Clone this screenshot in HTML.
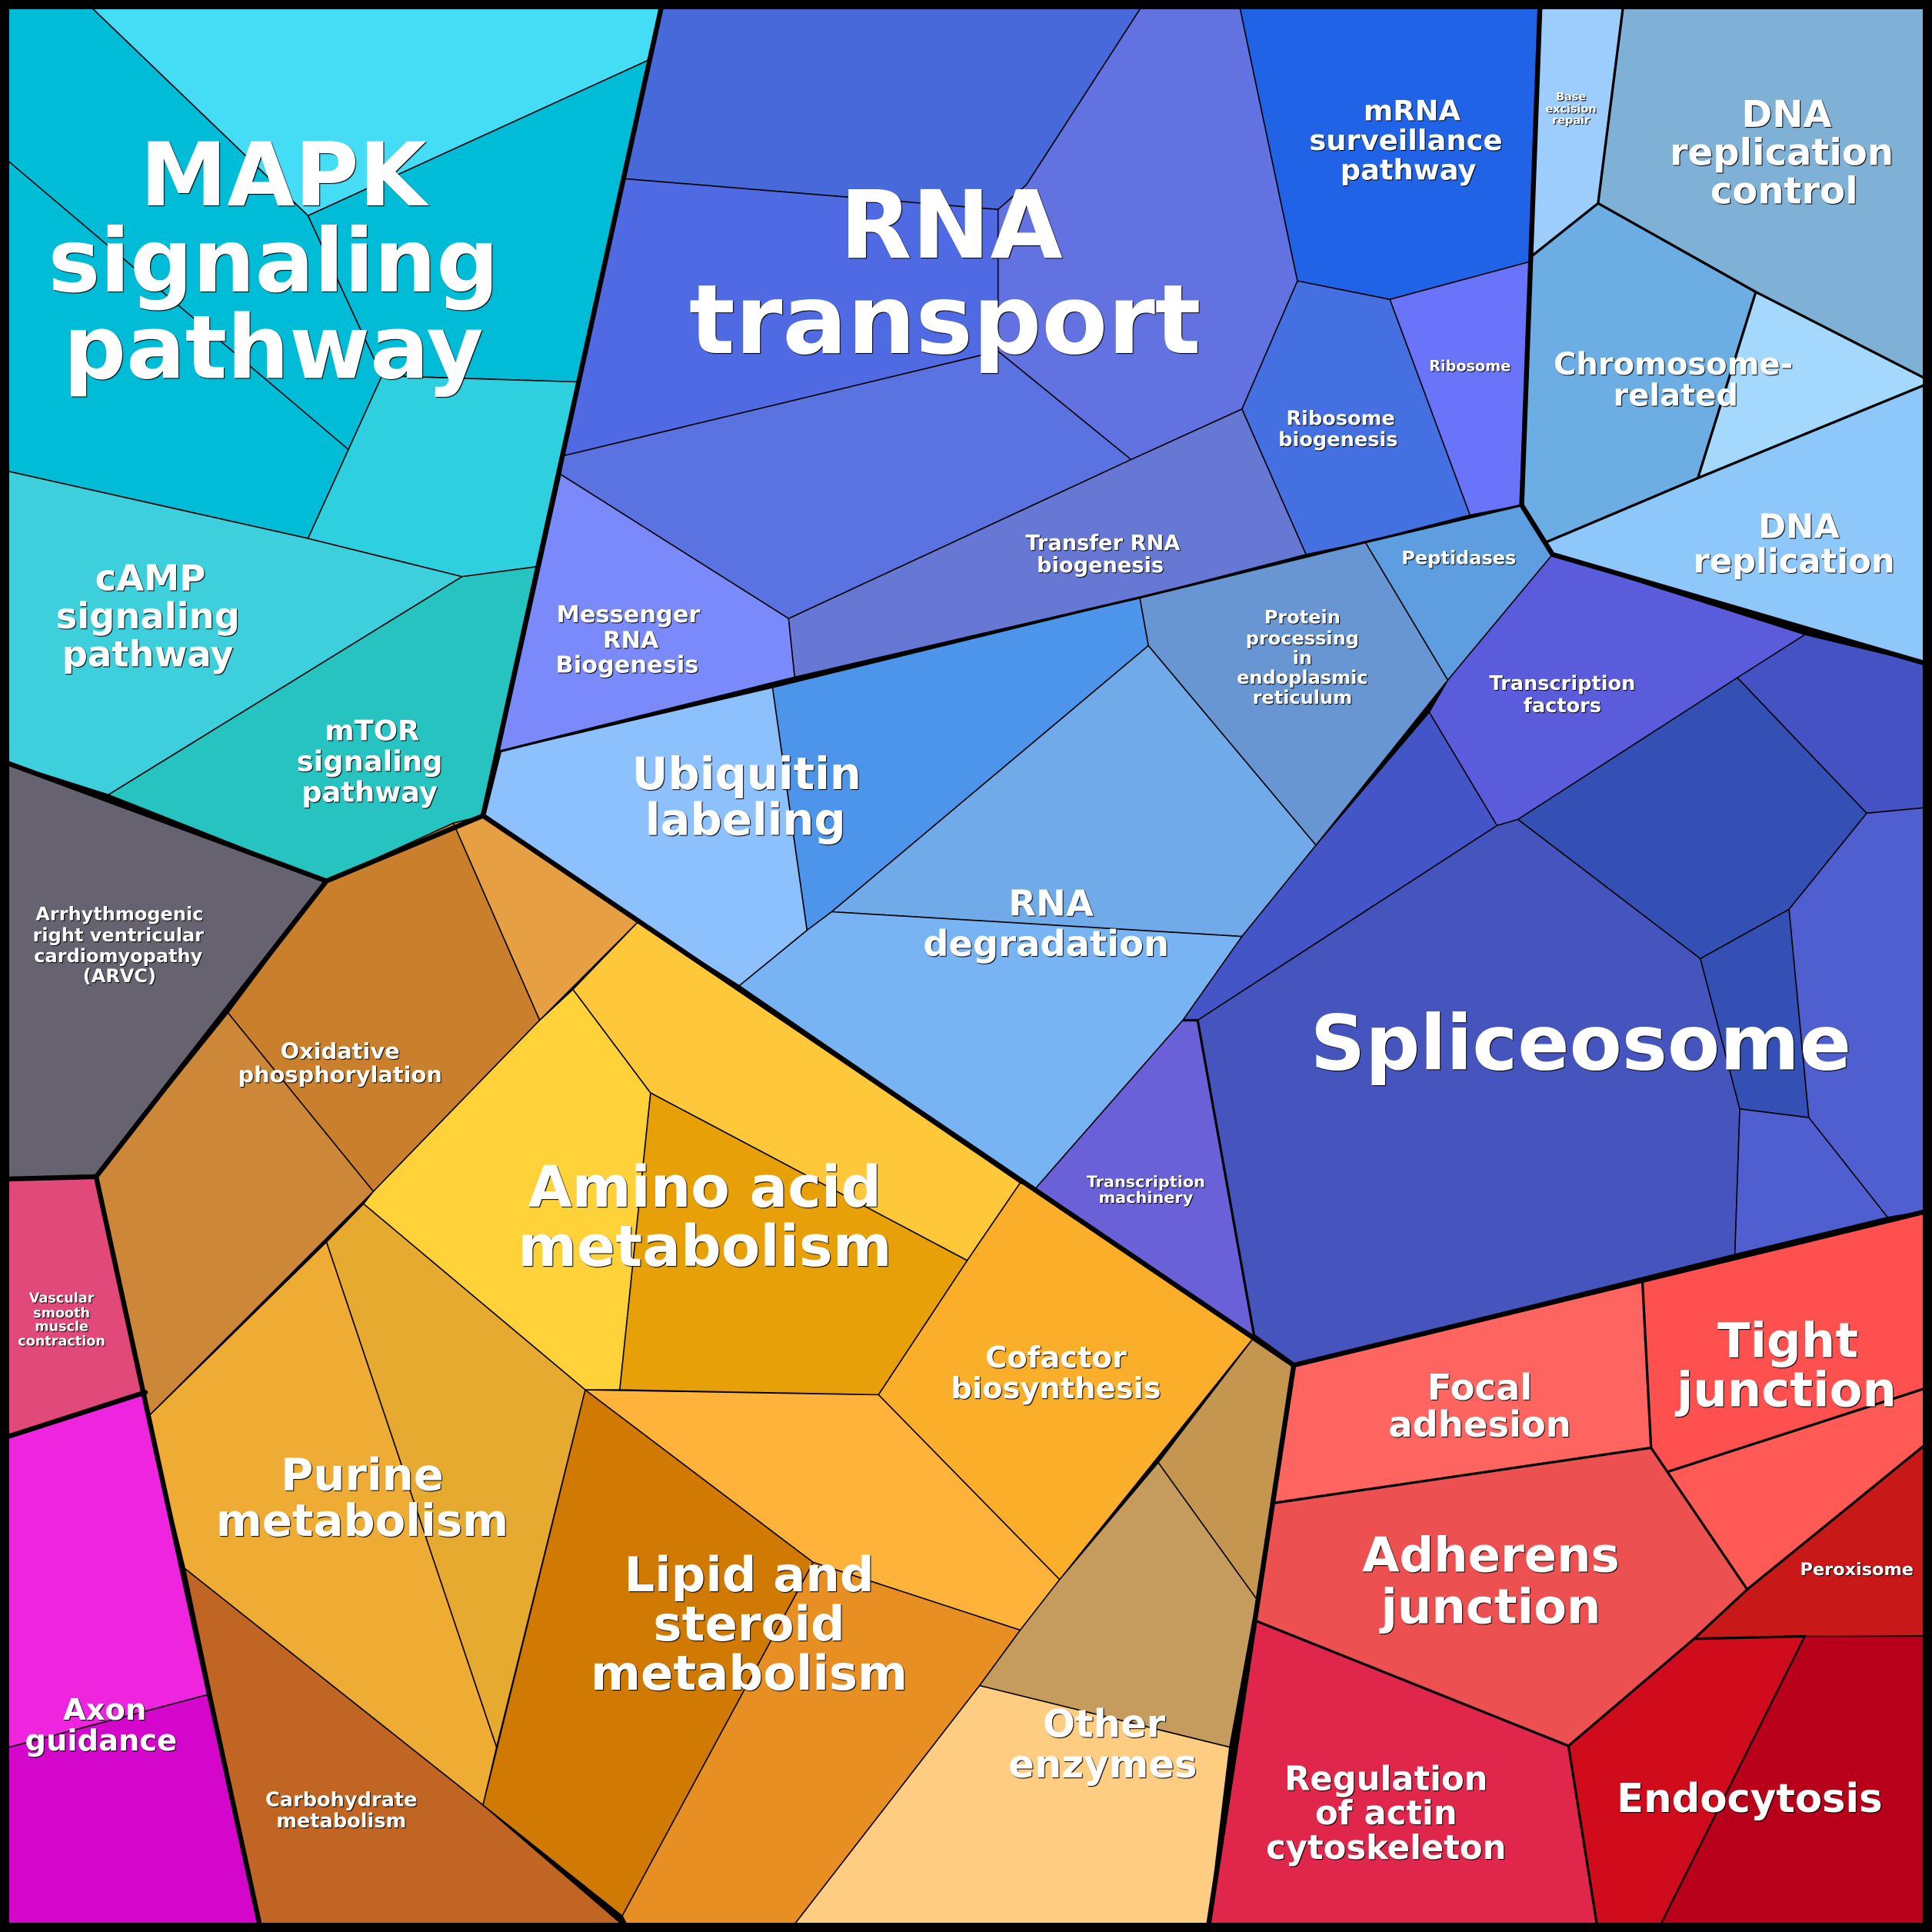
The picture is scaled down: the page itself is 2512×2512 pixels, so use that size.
<!DOCTYPE html>
<html><head><meta charset="utf-8"><style>
html,body{margin:0;padding:0;background:#000}
svg{display:block}
text{font-family:"DejaVu Sans","Liberation Sans",sans-serif;font-weight:bold;fill:#fff;text-anchor:middle;dominant-baseline:central;text-shadow:1px 1px 1px #000}
.c{stroke:#000;stroke-width:1;stroke-linejoin:round}
.m{stroke:#000;stroke-width:2;stroke-linejoin:round}
.t{fill:none;stroke:#000;stroke-width:4;stroke-linejoin:round;stroke-linecap:round}
</style></head><body>
<svg width="2512" height="2512" viewBox="0 0 1568 1568" xmlns="http://www.w3.org/2000/svg">
<polygon class="c" fill="#00bcd6" points="0,0 68,0 250,175 310,305 250,437 0,381"/>
<polygon class="c" fill="#45dcf5" points="68,0 538,0 528,48 250,175"/>
<polygon class="c" fill="#00bcd6" points="250,175 528,48 470,310 310,305"/>
<polygon class="c" fill="#2ed0e0" points="310,305 470,310 435,460 375,468 250,437"/>
<line class="c" x1="0" y1="125" x2="283" y2="365"/>
<polygon class="c" fill="#3ecfdc" points="0,381 250,437 375,468 88,645 0,617"/>
<polygon class="c" fill="#26c3c0" points="375,468 435,460 392,662 265,715 88,645"/>
<polygon class="c" fill="#676270" points="0,617 265,715 78,955 0,957"/>
<polygon class="c" fill="#e0497a" points="0,957 78,955 118,1130 0,1168"/>
<polygon class="c" fill="#ef24df" points="0,1168 118,1130 170,1375 0,1420"/>
<polygon class="c" fill="#d506cb" points="0,1420 170,1375 212,1568 0,1568"/>
<polygon class="c" fill="#c97f2b" points="185,822 265,715 368,668 438,828 303,967"/>
<polygon class="c" fill="#cd8738" points="78,955 185,822 303,967 120,1150"/>
<polygon class="c" fill="#e6a043" points="368,668 392,662 518,748 438,828"/>
<polygon class="c" fill="#ffd23a" points="438,828 465,803 528,887 503,1128 475,1128 295,977 303,967"/>
<polygon class="c" fill="#ffc83a" points="465,803 518,748 828,960 785,1023 528,887"/>
<polygon class="c" fill="#e8a008" points="528,887 785,1023 713,1132 503,1128"/>
<polygon class="c" fill="#fbae29" points="828,960 840,965 1018,1085 860,1282 713,1132 785,1023"/>
<polygon class="c" fill="#efac35" points="120,1150 265,1008 403,1418 392,1465 150,1273"/>
<polygon class="c" fill="#e6aa30" points="265,1008 295,977 475,1128 403,1418"/>
<polygon class="c" fill="#c06523" points="150,1273 392,1465 512,1568 212,1568"/>
<polygon class="c" fill="#d07a04" points="475,1128 660,1268 505,1555 392,1465"/>
<polygon class="c" fill="#ffb33a" points="475,1128 713,1132 860,1282 828,1323 660,1268"/>
<polygon class="c" fill="#e88f24" points="660,1268 828,1323 795,1368 640,1568 512,1568 505,1555"/>
<polygon class="c" fill="#c49650" points="940,1187 1018,1085 1050,1108 1020,1298"/>
<polygon class="c" fill="#c59c5e" points="860,1282 940,1187 1020,1298 998,1418 795,1368 828,1323"/>
<polygon class="c" fill="#ffcd82" points="795,1368 998,1418 980,1568 640,1568"/>
<polygon class="c" fill="#4869d9" points="538,0 930,0 833,150 810,170 506,145"/>
<polygon class="c" fill="#6272e0" points="930,0 1005,0 1053,228 1008,332 918,373 810,285 810,170 833,150"/>
<polygon class="c" fill="#4f6ae2" points="506,145 810,170 810,285 457,370 470,310"/>
<polygon class="c" fill="#5a73e0" points="457,370 810,285 918,373 640,502 455,385"/>
<polygon class="c" fill="#7a8afa" points="455,385 640,502 645,550 405,610"/>
<polygon class="c" fill="#6677d4" points="640,502 918,373 1008,332 1060,450 925,485 645,550"/>
<polygon class="c" fill="#2163e6" points="1005,0 1250,0 1243,212 1128,243 1053,228"/>
<polygon class="c" fill="#6a74fa" points="1128,243 1243,212 1235,410 1193,418"/>
<polygon class="c" fill="#4570e2" points="1053,228 1128,243 1193,418 1108,440 1060,450 1008,332"/>
<polygon class="c" fill="#5d9de0" points="1108,440 1235,410 1260,450 1175,552"/>
<polygon class="c" fill="#6896d2" points="925,485 1108,440 1175,552 1068,686 932,524"/>
<polygon class="c" fill="#8cc1fd" points="392,662 405,610 627,558 655,755 600,800 518,748"/>
<polygon class="c" fill="#4d95ea" points="627,558 925,485 932,524 675,740 655,755"/>
<polygon class="c" fill="#70aae8" points="675,740 932,524 1068,686 1008,760"/>
<polygon class="c" fill="#78b3f3" points="600,800 655,755 675,740 1008,760 960,828 840,965"/>
<polygon class="c" fill="#4455c8" points="960,828 1008,760 1068,686 1160,578 1215,670 972,828"/>
<polygon class="c" fill="#5b5cdc" points="1175,552 1260,450 1465,515 1232,665 1215,670 1160,578"/>
<polygon class="c" fill="#4655be" points="972,828 1215,670 1232,665 1380,778 1412,900 1408,1018 1050,1108 1018,1085"/>
<polygon class="c" fill="#6a60d8" points="840,965 960,828 972,828 1018,1085"/>
<polygon class="c" fill="#3450b5" points="1232,665 1410,550 1515,660 1452,738 1380,778"/>
<polygon class="c" fill="#4452c4" points="1410,550 1465,515 1568,540 1568,655 1515,660"/>
<polygon class="c" fill="#3450b5" points="1380,778 1452,738 1468,907 1412,900"/>
<polygon class="c" fill="#4f5fd0" points="1452,738 1515,660 1568,655 1568,982 1532,988 1468,907"/>
<polygon class="c" fill="#4f5fd0" points="1412,900 1468,907 1532,988 1408,1018"/>
<polygon class="m" fill="#9dcdfc" points="1250,0 1318,0 1297,165 1243,208"/>
<polygon class="m" fill="#7fb0d6" points="1318,0 1568,0 1568,310 1425,237 1297,165"/>
<polygon class="m" fill="#6caee4" points="1243,208 1297,165 1425,237 1378,388 1255,440 1235,410"/>
<polygon class="m" fill="#a5d8fd" points="1425,237 1568,310 1378,388"/>
<polygon class="m" fill="#8ec7fa" points="1378,388 1568,310 1568,540 1260,450 1255,440"/>
<polygon class="m" fill="#ff6560" points="1050,1108 1333,1040 1340,1175 1033,1220"/>
<polygon class="m" fill="#ff5050" points="1333,1040 1568,982 1568,1125 1352,1195 1340,1175"/>
<polygon class="m" fill="#ff5a55" points="1352,1195 1568,1125 1568,1168 1418,1290"/>
<polygon class="m" fill="#c81818" points="1418,1290 1568,1168 1568,1328 1375,1330"/>
<polygon class="m" fill="#ed5050" points="1033,1220 1340,1175 1418,1290 1375,1330 1273,1417 1018,1315"/>
<polygon class="m" fill="#e0264a" points="1018,1315 1273,1417 1297,1568 980,1568"/>
<polygon class="m" fill="#cf0b1c" points="1273,1417 1375,1330 1465,1328 1345,1568 1297,1568"/>
<polygon class="c" fill="#b8001a" points="1465,1328 1568,1328 1568,1568 1345,1568"/>
<polyline class="m" fill="none" points="405,610 645,550 925,485 1108,440 1235,410"/>
<polyline class="m" fill="none" points="960,828 972,828 1018,1085"/>
<polyline class="t" points="538,0 392,662"/>
<polyline class="t" points="0,617 265,715 392,662"/>
<polyline class="t" points="265,715 78,955 0,957"/>
<polyline class="t" points="78,955 212,1568"/>
<polyline class="t" points="0,1168 118,1130"/>
<polyline class="t" points="392,662 1050,1108 980,1568"/>
<polyline class="t" points="1018,1085 1050,1108 1568,982"/>
<polyline class="t" points="1250,0 1235,410 1260,450 1568,540"/>
<polyline class="t" points="392,662 405,610"/>
<rect x="3.5" y="3.5" width="1561" height="1561" fill="none" stroke="#000" stroke-width="8"/>
<g>
<text x="230" y="142" font-size="71">MAPK</text>
<text x="222" y="212" font-size="71">signaling</text>
<text x="222" y="282" font-size="71">pathway</text>
<text x="772" y="183" font-size="76">RNA</text>
<text x="767" y="260" font-size="78">transport</text>
<text x="1283" y="847" font-size="62">Spliceosome</text>
<text x="1146" y="90" font-size="23">mRNA</text>
<text x="1141" y="114" font-size="23">surveillance</text>
<text x="1143" y="138" font-size="23">pathway</text>
<text x="1450" y="93" font-size="30">DNA</text>
<text x="1446" y="124" font-size="30">replication</text>
<text x="1448" y="155" font-size="30">control</text>
<text x="1275" y="79" font-size="9">Base</text>
<text x="1275" y="89" font-size="9">excision</text>
<text x="1275" y="98" font-size="9">repair</text>
<text x="1358" y="296" font-size="25">Chromosome-</text>
<text x="1360" y="321" font-size="25">related</text>
<text x="1460" y="428" font-size="27">DNA</text>
<text x="1456" y="456" font-size="27">replication</text>
<text x="1193" y="297" font-size="12">Ribosome</text>
<text x="1088" y="340" font-size="16">Ribosome</text>
<text x="1086" y="357" font-size="16">biogenesis</text>
<text x="895" y="441" font-size="17">Transfer RNA</text>
<text x="893" y="459" font-size="17">biogenesis</text>
<text x="510" y="499" font-size="19">Messenger</text>
<text x="512" y="520" font-size="19">RNA</text>
<text x="509" y="540" font-size="19">Biogenesis</text>
<text x="1184" y="453" font-size="15">Peptidases</text>
<text x="1057" y="501" font-size="15">Protein</text>
<text x="1057" y="518" font-size="15">processing</text>
<text x="1057" y="534" font-size="15">in</text>
<text x="1057" y="550" font-size="15">endoplasmic</text>
<text x="1057" y="566" font-size="15">reticulum</text>
<text x="1268" y="555" font-size="16">Transcription</text>
<text x="1268" y="573" font-size="16">factors</text>
<text x="606" y="628" font-size="36">Ubiquitin</text>
<text x="605" y="665" font-size="36">labeling</text>
<text x="853" y="733" font-size="29">RNA</text>
<text x="849" y="766" font-size="29">degradation</text>
<text x="930" y="959" font-size="13">Transcription</text>
<text x="930" y="972" font-size="13">machinery</text>
<text x="122" y="469" font-size="29">cAMP</text>
<text x="120" y="500" font-size="29">signaling</text>
<text x="120" y="531" font-size="29">pathway</text>
<text x="302" y="593" font-size="23">mTOR</text>
<text x="300" y="618" font-size="23">signaling</text>
<text x="300" y="643" font-size="23">pathway</text>
<text x="97" y="742" font-size="15">Arrhythmogenic</text>
<text x="96" y="759" font-size="15">right ventricular</text>
<text x="96" y="776" font-size="15">cardiomyopathy</text>
<text x="97" y="792" font-size="15">(ARVC)</text>
<text x="50" y="1054" font-size="11">Vascular</text>
<text x="50" y="1066" font-size="11">smooth</text>
<text x="50" y="1077" font-size="11">muscle</text>
<text x="50" y="1089" font-size="11">contraction</text>
<text x="85" y="1388" font-size="24">Axon</text>
<text x="82" y="1413" font-size="24">guidance</text>
<text x="276" y="853" font-size="18">Oxidative</text>
<text x="276" y="872" font-size="18">phosphorylation</text>
<text x="572" y="964" font-size="46">Amino acid</text>
<text x="572" y="1012" font-size="46">metabolism</text>
<text x="857" y="1102" font-size="24">Cofactor</text>
<text x="857" y="1127" font-size="24">biosynthesis</text>
<text x="294" y="1197" font-size="36">Purine</text>
<text x="294" y="1234" font-size="36">metabolism</text>
<text x="608" y="1278" font-size="39">Lipid and</text>
<text x="608" y="1318" font-size="39">steroid</text>
<text x="608" y="1358" font-size="39">metabolism</text>
<text x="277" y="1461" font-size="16">Carbohydrate</text>
<text x="277" y="1478" font-size="16">metabolism</text>
<text x="896" y="1399" font-size="31">Other</text>
<text x="895" y="1432" font-size="31">enzymes</text>
<text x="1201" y="1126" font-size="29">Focal</text>
<text x="1201" y="1156" font-size="29">adhesion</text>
<text x="1451" y="1088" font-size="39">Tight</text>
<text x="1450" y="1128" font-size="39">junction</text>
<text x="1210" y="1262" font-size="39">Adherens</text>
<text x="1210" y="1304" font-size="39">junction</text>
<text x="1507" y="1274" font-size="14">Peroxisome</text>
<text x="1125" y="1444" font-size="27">Regulation</text>
<text x="1125" y="1472" font-size="27">of actin</text>
<text x="1125" y="1500" font-size="27">cytoskeleton</text>
<text x="1420" y="1460" font-size="32">Endocytosis</text>
</g>
</svg>
</body></html>
